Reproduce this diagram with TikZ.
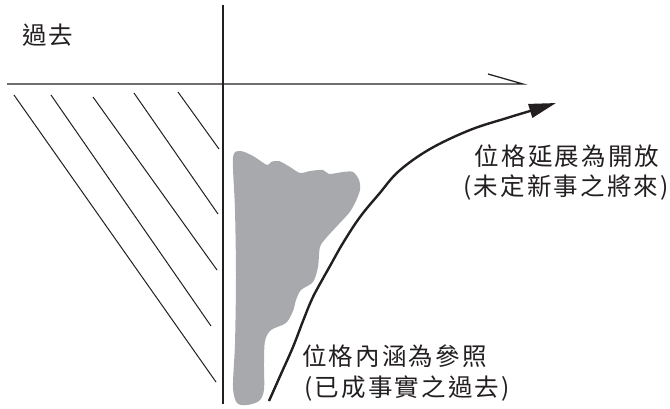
\documentclass[tikz,border=0pt]{standalone}
\usepackage{fontspec}
\setmainfont{Noto Sans CJK TC}[LetterSpace=9]
\usetikzlibrary{arrows.meta}
\definecolor{ink}{HTML}{231F20}
\definecolor{blob}{HTML}{A7A9AC}
\begin{document}
\begin{tikzpicture}[x=1pt,y=-1pt,
  axis/.style={draw=ink,line width=1.3pt},
  hatch/.style={draw=ink,line width=1pt},
  flow/.style={draw=ink,line width=2.4pt,-{Triangle[length=27pt,width=14pt]}},
  label/.style={text=ink,inner sep=0pt,font=\fontsize{24.5}{31}\selectfont}]
\useasboundingbox (0,0) rectangle (670,409);

% axes
\coordinate (vtop) at (223,5);
\coordinate (vbot) at (223,404);
\coordinate (hleft) at (7,84);
\coordinate (hright) at (523,84);
\coordinate (barb) at (488,74);
\draw[axis] (vtop) -- (vbot);
\draw[axis,line join=miter] (hleft) -- (hright) -- (barb);

% hatching of the past
\draw[hatch] (14,95) -- (216,382);
\draw[hatch] (51,95) -- (211,326);
\draw[hatch] (93,97) -- (217,270);
\draw[hatch] (134,93) -- (218,214);
\draw[hatch] (178,92) -- (219,149);

% grey region
\fill[blob] plot[smooth cycle,tension=0.5] coordinates {
  (233,158) (240,151) (253,156) (267,165) (271,162) (279,161) (290,167)
  (300,173) (310,171) (323,170) (329,174) (343,172) (353,172) (359,180)
  (360,190) (355,203) (349,213) (338,225) (327,237) (320,247) (318,267)
  (313,282) (301,290) (296,300) (293,311) (286,323) (271,330) (265,341)
  (264,363) (264,390) (259,401) (247,405) (237,403) (233,387) (235,343)
  (236,277) (235,210)};

% the arrow
\coordinate (cstart) at (269,401);
\coordinate (ctip) at (556,103);
\draw[flow] plot[smooth,tension=0.6] coordinates {
  (cstart) (281,374) (293,347) (303,321) (312,299) (321,282) (330,266)
  (343,243) (360,217) (379,194) (399,171) (430,149) (470,130) (507,118)
  (530,111) (ctip)};

% labels
\node[label,anchor=base west] (past) at (22,45) {過去};
\node[label,anchor=base] (openA) at (567,166) {位格延展為開放};
\node[label,anchor=base] (openB) at (566,196) {(未定新事之將來)};
\node[label,anchor=base west] (refA) at (302,365) {位格內涵為參照};
\node[label,anchor=base west] (refB) at (304,396) {(已成事實之過去)};
\end{tikzpicture}
\end{document}
